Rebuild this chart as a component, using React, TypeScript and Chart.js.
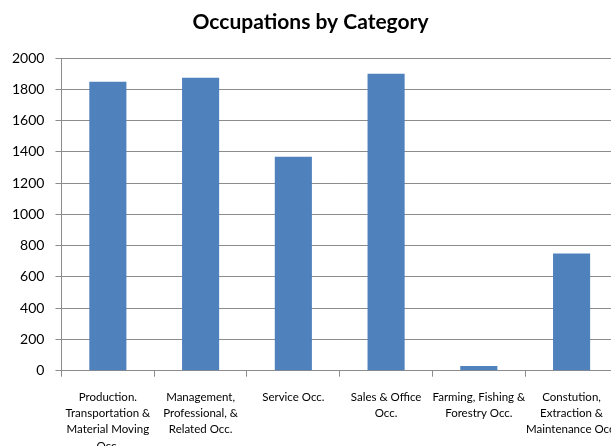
import React, { useEffect, useRef } from "react";
import { Chart, registerables } from "chart.js";

Chart.register(...registerables);

const categories: string[][] = [
  ["Production.", "Transportation &", "Material Moving", "Occ."],
  ["Management,", "Professional, &", "Related Occ."],
  ["Service Occ."],
  ["Sales & Office", "Occ."],
  ["Farming, Fishing &", "Forestry Occ."],
  ["Constution,", "Extraction &", "Maintenance Occ."],
];
const values: number[] = [1850, 1875, 1370, 1900, 30, 750];
const yMin = 0;
const yMax = 2000;
const yStep = 200;
const title = "Occupations by Category";

const FONT = "Lato, 'Open Sans', sans-serif";

export default function App() {
  const ref = useRef<HTMLCanvasElement | null>(null);
  useEffect(() => {
    if (!ref.current) return;
    const chart = new Chart(ref.current, {
      type: "bar",
      data: {
        labels: categories,
        datasets: [
          {
            data: values,
            backgroundColor: "#4F81BD",
            borderWidth: 0,
            barPercentage: 0.4,
            categoryPercentage: 1,
          },
        ],
      },
      options: {
        animation: false,
        responsive: true,
        maintainAspectRatio: false,
        layout: { padding: { left: 1, right: 10, top: 0, bottom: 0 } },
        plugins: {
          legend: { display: false },
          tooltip: { enabled: false },
          title: {
            display: true,
            text: title,
            color: "#000",
            font: { family: FONT, size: 21, weight: "bold" },
            padding: { top: 10, bottom: 23 },
          },
        },
        scales: {
          x: {
            grid: {
              drawOnChartArea: false,
              drawTicks: true,
              tickLength: 6,
              offset: true,
              color: "#8c8c8c",
            },
            border: { color: "#8c8c8c" },
            ticks: {
              color: "#000",
              font: { family: FONT, size: 11.5, lineHeight: 1.42 },
              maxRotation: 0,
              autoSkip: false,
              padding: 12,
            },
          },
          y: {
            min: yMin,
            max: yMax,
            grid: { color: "#8c8c8c", tickLength: 6 },
            border: { color: "#8c8c8c" },
            ticks: {
              stepSize: yStep,
              color: "#000",
              font: { family: FONT, size: 14 },
              padding: 11,
              callback: (v: any) => String(v),
            },
          },
        },
      },
    });
    return () => chart.destroy();
  }, []);
  return (
    <div style={{ position: "fixed", left: 0, top: 0, width: 611, height: 446, overflow: "hidden", background: "#fff" }}>
      <div style={{ position: "relative", width: 630, height: 466 }}>
        <canvas ref={ref} />
      </div>
    </div>
  );
}
